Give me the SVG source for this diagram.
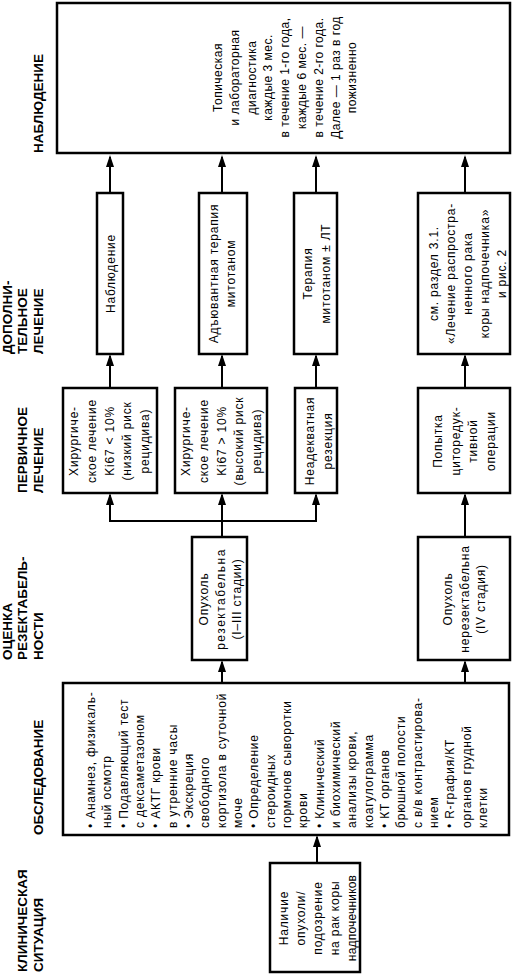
<svg xmlns="http://www.w3.org/2000/svg" width="512" height="976" viewBox="0 0 512 976">
<style>
.box{fill:#fff;stroke:#000;stroke-width:2.5}
.ln{fill:none;stroke:#000;stroke-width:2}
.lbl{font-family:"Liberation Sans",Arial,sans-serif;font-weight:bold;font-size:13.5px;fill:#000}
.t{font-family:"Liberation Sans",Arial,sans-serif;font-size:12px;letter-spacing:0.8px;fill:#000}
.tw{font-family:"Liberation Sans",Arial,sans-serif;font-size:12px;letter-spacing:0.5px;fill:#000}
.m{text-anchor:middle}
</style>
<defs>
<marker id="ah" viewBox="0 0 12 8" refX="10" refY="4" markerWidth="12" markerHeight="8" markerUnits="userSpaceOnUse" orient="auto">
<path d="M0,0 L12,4 L0,8 z" fill="#000"/>
</marker>
</defs>

<g id="labels">
<text class="lbl" transform="translate(27,972) rotate(-90)"><tspan x="0" y="0">КЛИНИЧЕСКАЯ</tspan><tspan x="0" y="16">СИТУАЦИЯ</tspan></text>
<text class="lbl" transform="translate(43,835) rotate(-90)"><tspan x="0" y="0">ОБСЛЕДОВАНИЕ</tspan></text>
<text class="lbl" transform="translate(11.5,660) rotate(-90)"><tspan x="0" y="0">ОЦЕНКА</tspan><tspan x="0" y="15.8">РЕЗЕКТАБЕЛЬ-</tspan><tspan x="0" y="31.6">НОСТИ</tspan></text>
<text class="lbl" transform="translate(27,493) rotate(-90)"><tspan x="0" y="0">ПЕРВИЧНОЕ</tspan><tspan x="0" y="16">ЛЕЧЕНИЕ</tspan></text>
<text class="lbl" transform="translate(11.5,354) rotate(-90)"><tspan x="0" y="0">ДОПОЛНИ-</tspan><tspan x="0" y="15.8">ТЕЛЬНОЕ</tspan><tspan x="0" y="31.6">ЛЕЧЕНИЕ</tspan></text>
<text class="lbl" transform="translate(43,153) rotate(-90)"><tspan x="0" y="0">НАБЛЮДЕНИЕ</tspan></text>
</g>

<g id="connectors">
<path class="ln" d="M317,863 V837" marker-end="url(#ah)"/>
<path class="ln" d="M222,683 V662" marker-end="url(#ah)"/>
<path class="ln" d="M465,683 V662" marker-end="url(#ah)"/>
<path class="ln" d="M222,537 V521"/>
<path class="ln" d="M109,521 H317"/>
<path class="ln" d="M110,521 V495" marker-end="url(#ah)"/>
<path class="ln" d="M222,521 V495" marker-end="url(#ah)"/>
<path class="ln" d="M316,521 V495" marker-end="url(#ah)"/>
<path class="ln" d="M465,537 V495" marker-end="url(#ah)"/>
<path class="ln" d="M110,388 V356" marker-end="url(#ah)"/>
<path class="ln" d="M222,388 V356" marker-end="url(#ah)"/>
<path class="ln" d="M316,388 V356" marker-end="url(#ah)"/>
<path class="ln" d="M465,388 V356" marker-end="url(#ah)"/>
<path class="ln" d="M110,193 V157" marker-end="url(#ah)"/>
<path class="ln" d="M222,193 V157" marker-end="url(#ah)"/>
<path class="ln" d="M316,193 V157" marker-end="url(#ah)"/>
<path class="ln" d="M465,193 V157" marker-end="url(#ah)"/>
</g>

<g id="n-situation">
<rect class="box" x="270" y="863" width="90" height="109"/>
<text class="t m" transform="translate(288,918) rotate(-90)"><tspan x="0" y="0">Наличие</tspan><tspan x="0" y="17">опухоли/</tspan><tspan x="0" y="34">подозрение</tspan><tspan x="0" y="51">на рак коры</tspan><tspan x="0" y="68" letter-spacing="0.2">надпочечников</tspan></text>
</g>

<g id="n-exam">
<rect class="box" x="63" y="683" width="446" height="152"/>
<text class="t" transform="translate(95,828) rotate(-90)">
<tspan x="0" y="0">• Анамнез, физикаль-</tspan>
<tspan x="0" y="16.33">ный осмотр</tspan>
<tspan x="0" y="32.66">• Подавляющий тест</tspan>
<tspan x="0" y="49">с дексаметазоном</tspan>
<tspan x="0" y="65.33">• АКТГ крови</tspan>
<tspan x="0" y="81.66">в утренние часы</tspan>
<tspan x="0" y="98">• Экскреция</tspan>
<tspan x="0" y="114.33">свободного</tspan>
<tspan x="0" y="130.66">кортизола в суточной</tspan>
<tspan x="0" y="147">моче</tspan>
<tspan x="0" y="163.33">• Определение</tspan>
<tspan x="0" y="179.66">стероидных</tspan>
<tspan x="0" y="196">гормонов сыворотки</tspan>
<tspan x="0" y="212.33">крови</tspan>
<tspan x="0" y="228.66">• Клинический</tspan>
<tspan x="0" y="245">и биохимический</tspan>
<tspan x="0" y="261.33">анализы крови,</tspan>
<tspan x="0" y="277.66">коагулограмма</tspan>
<tspan x="0" y="294">• КТ органов</tspan>
<tspan x="0" y="310.33">брюшной полости</tspan>
<tspan x="0" y="326.66">с в/в контрастирова-</tspan>
<tspan x="0" y="343">нием</tspan>
<tspan x="0" y="359.33">• R-графия/КТ</tspan>
<tspan x="0" y="375.66">органов грудной</tspan>
<tspan x="0" y="392">клетки</tspan>
</text>
</g>

<g id="n-resectable">
<rect class="box" x="192" y="537" width="55" height="123"/>
<text class="t m" transform="translate(208,599) rotate(-90)"><tspan x="0" y="0">Опухоль</tspan><tspan x="0" y="16.5" letter-spacing="1.5">резектабельна</tspan><tspan x="0" y="33">(I–III стадии)</tspan></text>
</g>

<g id="n-nonresectable">
<rect class="box" x="418" y="537" width="92" height="123"/>
<text class="t m" transform="translate(452,599) rotate(-90)"><tspan x="0" y="0">Опухоль</tspan><tspan x="0" y="16.5">нерезектабельна</tspan><tspan x="0" y="33">(IV стадия)</tspan></text>
</g>

<g id="n-surg-low">
<rect class="box" x="63" y="388" width="94" height="105"/>
<text class="t m" transform="translate(78,441) rotate(-90)"><tspan x="0" y="0">Хирургиче-</tspan><tspan x="0" y="17.8">ское лечение</tspan><tspan x="0" y="35.6">Ki67 &lt; 10%</tspan><tspan x="0" y="53.4">(низкий риск</tspan><tspan x="0" y="71.2">рецидива)</tspan></text>
</g>

<g id="n-surg-high">
<rect class="box" x="175" y="388" width="92" height="105"/>
<text class="t m" transform="translate(190,441) rotate(-90)"><tspan x="0" y="0">Хирургиче-</tspan><tspan x="0" y="17.8">ское лечение</tspan><tspan x="0" y="35.6">Ki67 &gt; 10%</tspan><tspan x="0" y="53.4">(высокий риск</tspan><tspan x="0" y="71.2">рецидива)</tspan></text>
</g>

<g id="n-inadequate">
<rect class="box" x="295" y="388" width="42" height="105"/>
<text class="t m" transform="translate(314,441) rotate(-90)"><tspan x="0" y="0">Неадекватная</tspan><tspan x="0" y="17.5">резекция</tspan></text>
</g>

<g id="n-cytoreduction">
<rect class="box" x="418" y="388" width="92" height="105"/>
<text class="t m" transform="translate(442,441) rotate(-90)"><tspan x="0" y="0">Попытка</tspan><tspan x="0" y="17.5">циторедук-</tspan><tspan x="0" y="35">тивной</tspan><tspan x="0" y="52.5">операции</tspan></text>
</g>

<g id="n-observation-small">
<rect class="box" x="97" y="193" width="26" height="161"/>
<text class="t m" transform="translate(115,273.5) rotate(-90)"><tspan x="0" y="0">Наблюдение</tspan></text>
</g>

<g id="n-adjuvant">
<rect class="box" x="199" y="193" width="48" height="161"/>
<text class="t m" transform="translate(218,273.5) rotate(-90)"><tspan x="0" y="0">Адъювантная терапия</tspan><tspan x="0" y="17">митотаном</tspan></text>
</g>

<g id="n-mitotane-rt">
<rect class="box" x="294" y="193" width="43" height="161"/>
<text class="t m" transform="translate(312,273.5) rotate(-90)"><tspan x="0" y="0">Терапия</tspan><tspan x="0" y="17.5">митотаном ± ЛТ</tspan></text>
</g>

<g id="n-see-section">
<rect class="box" x="418" y="193" width="92" height="161"/>
<text class="t m" transform="translate(438,273.5) rotate(-90)"><tspan x="0" y="0">см. раздел 3.1.</tspan><tspan x="0" y="17">«Лечение распростра-</tspan><tspan x="0" y="34">ненного рака</tspan><tspan x="0" y="51">коры надпочечника»</tspan><tspan x="0" y="68">и рис. 2</tspan></text>
</g>

<g id="n-followup">
<rect class="box" x="57" y="3" width="453" height="150"/>
<text class="tw m" transform="translate(222,77.5) rotate(-90)"><tspan x="0" y="0">Топическая</tspan><tspan x="0" y="16.8">и лабораторная</tspan><tspan x="0" y="33.6">диагностика</tspan><tspan x="0" y="50.4">каждые 3 мес.</tspan><tspan x="0" y="67.2">в течение 1-го года,</tspan><tspan x="0" y="84">каждые 6 мес. —</tspan><tspan x="0" y="100.8">в течение 2-го года.</tspan><tspan x="0" y="117.6">Далее — 1 раз в год</tspan><tspan x="0" y="134.4">пожизненно</tspan></text>
</g>
</svg>
